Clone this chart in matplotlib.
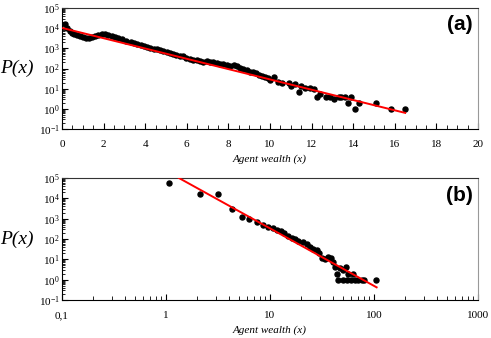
import matplotlib.pyplot as plt
import matplotlib.ticker as mticker
import numpy as np

plt.rcParams["font.family"] = ["Liberation Serif", "DejaVu Serif"]
plt.rcParams["mathtext.fontset"] = "stix"

# panel (a): wealth distribution, semi-log
wealth_a = [0.15, 0.25, 0.38, 0.5, 0.6, 0.7, 0.85, 1.0, 1.15, 1.3, 1.45, 1.6, 1.74,
            1.9, 2.07, 2.23, 2.39, 2.55, 2.7, 2.9, 3.1, 3.3, 3.45, 3.6, 3.8, 3.95,
            4.07, 4.25, 4.4, 4.55, 4.7, 4.87, 5.03, 5.2, 5.35, 5.5, 5.67, 5.82, 5.98,
            6.15, 6.3, 6.48, 6.65, 6.8, 6.96, 7.12, 7.27, 7.43, 7.6, 7.75, 7.92, 8.08,
            8.25, 8.4, 8.56, 8.72, 8.88, 9.04, 9.17, 9.32, 9.47, 9.62, 9.76, 9.9, 10.0,
            10.2, 10.4, 10.6, 10.9, 11.0, 11.2, 11.4, 11.5, 11.7, 11.9, 12.1, 12.25,
            12.4, 12.7, 12.9, 13.1, 13.3, 13.4, 13.6, 13.75, 13.9, 14.1, 14.3, 15.1,
            15.8, 16.5]
prob_a = [15800, 10000, 7600, 6000, 5100, 4600, 4000, 3550, 3300, 3240, 3470, 4070,
          4790, 5130, 5010, 4680, 4270, 3800, 3390, 2880, 2400, 2040, 1860, 1660, 1450,
          1290, 1200, 1070, 977, 891, 832, 759, 692, 603, 550, 479, 417, 398, 347, 302,
          263, 251, 229, 204, 245, 200, 204, 186, 174, 162, 145, 132, 145, 135, 107, 93,
          83, 71, 71, 60, 50, 44, 37, 32, 28, 38, 22, 19.5, 19, 14, 17, 7, 14, 11, 11,
          9.5, 4, 5.5, 4, 4, 3, 4, 4, 4, 2, 4, 1, 2, 2, 1, 1]
fit_a_x = [0.05, 16.5]
fit_a_y = [10000, 0.63]

# panel (b): same data, log-log
wealth_b = [1.07, 2.12, 3.18, 4.28, 5.35, 6.3, 7.45, 8.63, 9.64, 10.8, 11.7, 12.7,
            13.7, 15.0, 16.2, 17.4, 18.7, 20.6, 22.5, 24.3, 26.1, 28.5, 29.9, 31.4,
            33.8, 36.4, 38.4, 40.7, 42.2, 44.4, 44.8, 47.1, 50.7, 50.7, 53.8, 56.6,
            55.5, 60, 63, 65.6, 70.6, 76, 80, 104.5]
prob_b = [55000, 16200, 15800, 2900, 1260, 930, 660, 490, 400, 330, 270, 245, 200,
          145, 115, 95, 83, 74, 56, 42, 32, 29, 19.5, 11, 10, 12.6, 11, 7.6, 4.3, 2, 1,
          3.6, 3, 1, 4, 2, 1, 1, 2, 1, 1, 1, 1, 1]
fit_b_x = [1.33, 106]
fit_b_y = [100000, 0.42]

fig = plt.figure(figsize=(4.91, 3.38), dpi=100)
ax_a = fig.add_axes([0.1263, 0.6183, 0.8472, 0.358])
ax_b = fig.add_axes([0.1263, 0.1124, 0.8472, 0.361])

for ax, xs, ys, fx, fy in [(ax_a, wealth_a, prob_a, fit_a_x, fit_a_y),
                           (ax_b, wealth_b, prob_b, fit_b_x, fit_b_y)]:
    ax.plot(xs, ys, "o", color="black", markersize=3.6, zorder=2)
    ax.plot(fx, fy, "-", color="red", linewidth=1.4, zorder=3)
    ax.set_yscale("log")
    ax.set_ylim(0.1, 1e5)
    ax.yaxis.set_major_locator(mticker.LogLocator(base=10, numticks=10))
    ax.yaxis.set_minor_locator(mticker.LogLocator(base=10, subs=np.arange(2, 10), numticks=10))
    ax.yaxis.set_minor_formatter(mticker.NullFormatter())
    ax.tick_params(which="both", direction="in", labelsize=8, top=False, right=False)
    ax.tick_params(axis="y", which="major", length=4, pad=1.5)
    ax.tick_params(axis="y", which="minor", length=2.5)
    ax.tick_params(axis="x", which="major", length=4, pad=8)
    ax.tick_params(axis="x", which="minor", length=3)
    ax.spines["top"].set_color("#333333")
    ax.spines["right"].set_color("#999999")
    ax.set_xlabel("Agent wealth (x)", style="italic", fontsize=8, labelpad=4)
    ax.set_ylabel("P(x)", rotation=0, fontsize=14, style="italic",
                  ha="center", va="center")
    ax.yaxis.set_label_coords(-0.108, 0.5)

ax_a.set_xlim(0, 20)
ax_a.xaxis.set_major_locator(mticker.MultipleLocator(2))
ax_a.xaxis.set_minor_locator(mticker.MultipleLocator(0.5))

ax_b.set_xscale("log")
ax_b.set_xlim(0.1, 1000)
ax_b.set_xticks([0.1, 1, 10, 100, 1000])
ax_b.set_xticklabels(["0,1", "1", "10", "100", "1000"])
ax_b.xaxis.set_minor_locator(mticker.LogLocator(base=10, subs=np.arange(2, 10), numticks=10))
ax_b.xaxis.set_minor_formatter(mticker.NullFormatter())

ax_a.text(0.988, 0.86, "(a)", transform=ax_a.transAxes, ha="right", va="center",
          fontsize=15, fontweight="bold", family="Liberation Sans")
ax_b.text(0.988, 0.86, "(b)", transform=ax_b.transAxes, ha="right", va="center",
          fontsize=15, fontweight="bold", family="Liberation Sans")

fig.savefig("out.png", dpi=100)
